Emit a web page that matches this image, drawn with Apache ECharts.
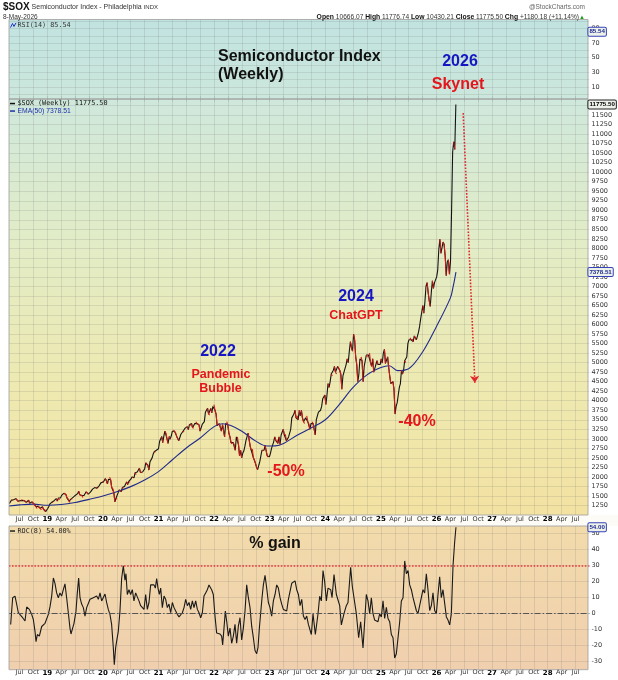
<!DOCTYPE html>
<html>
<head>
<meta charset="utf-8">
<title>$SOX Semiconductor Index (Weekly)</title>
<script src="https://cdn.jsdelivr.net/npm/echarts@6.0.0/dist/echarts.min.js"></script>
<style>
html,body{margin:0;padding:0;background:#ffffff;}
#chart{width:618px;height:680px;}
</style>
</head>
<body>
<div id="chart"></div>
<script>
// ================= DATA =================
const weekStart = '2018-04-27';           // first weekly close (Fridays)
const close2018 = [1300,1340,1390,1385,1400,1420,1430,1405,1365,1350,1375,1395,1385,1390,1375,1360,1330,1365,1390,1310,1320,1345,1330,1290,1245,1220,1170,1230,1195,1175,1130,1215,1150,1145,1090,1140];
const close2019 = [1170,1225,1290,1300,1340,1330,1375,1400,1430,1365,1445,1400,1450,1515,1545,1570,1555,1540,1450,1430,1365,1330,1425,1420,1470,1480,1520,1550,1560,1625,1530,1520,1510,1460,1510,1560,1610,1580,1550,1560,1600,1630,1680,1705,1720,1735,1700,1730,1760,1805,1850,1880];
const close2020 = [1860,1905,1955,1900,1820,1940,1990,1925,1720,1700,1590,1345,1440,1420,1580,1660,1640,1615,1720,1705,1750,1780,1870,1800,1880,1860,1940,2000,1975,1980,2110,2060,2130,2150,2230,2120,2110,2130,2150,2210,2370,2320,2310,2180,2400,2450,2500,2600,2660,2650,2700,2720];
const close2021 = [2740,2930,2980,3060,2900,3070,3200,3150,3000,2880,3060,2990,3080,3200,3230,3200,3160,3070,3010,2950,3000,3120,3140,3200,3180,3280,3300,3320,3240,3370,3340,3400,3290,3280,3400,3450,3400,3380,3370,3200,3250,3380,3390,3450,3700,3700,3800,3650,3620,3800,3680,3850,3900];
const close2022 = [3750,3650,3350,3370,3400,3300,3200,3370,3230,3050,3400,3450,3370,3150,3050,2900,2870,2900,2850,2700,3050,3050,2850,2560,2700,2500,2620,2680,2800,2950,3000,3150,2980,2800,2700,2730,2500,2450,2350,2250,2190,2300,2400,2450,2700,2680,2700,2820,2680,2550,2520,2530];
const close2023 = [2620,2750,2800,2920,3050,2950,2980,2880,3050,2850,3100,3150,3250,3100,3120,2950,2950,3050,3050,3250,3550,3600,3650,3750,3550,3600,3500,3750,3600,3750,3550,3450,3400,3550,3600,3450,3400,3250,3400,3450,3400,3250,3100,3500,3600,3700,3700,3750,3850,4050,4100,4150];
const close2024 = [3900,4150,4450,4350,4500,4700,4650,4800,4900,4750,4700,4900,4850,4800,4700,4300,4650,4750,4800,4950,5100,5000,5300,5550,5400,5300,5750,5600,5150,4950,4500,4700,5100,5150,5050,4500,4900,5050,5200,5150,5200,5250,5000,4900,5100,4750,4850,4850,5050,4950,4950,4950];
const close2025 = [5100,4990,5250,5350,4980,5000,5150,4880,4650,4450,4450,4500,4300,3650,3850,3950,4150,4350,4450,4800,4700,4800,5050,5000,5150,5500,5600,5650,5600,5620,5550,5700,5650,5600,5600,5800,5950,6150,6200,6500,6300,6600,7000,7100,6850,6630,6475,6850,7150,6950,7100,7100];
const close2026 = [7250,7430,7965,8240,7870,7900,8165,8100,7800,7280,7646,7700,7320,7660,8980,10530,10800,10595.32,11775.50];

const emaTimes  = [2018.31,2018.5,2018.75,2019.0,2019.25,2019.5,2019.75,2020.0,2020.25,2020.5,2020.75,2021.0,2021.25,2021.5,2021.75,2022.0,2022.15,2022.3,2022.5,2022.75,2022.95,2023.1,2023.25,2023.5,2023.75,2024.0,2024.25,2024.5,2024.75,2025.0,2025.15,2025.3,2025.5,2025.75,2026.0,2026.25,2026.3,2026.35];
const emaValues = [1235,1265,1285,1255,1275,1330,1410,1500,1610,1745,1920,2140,2450,2760,3020,3320,3395,3350,3200,2940,2810,2815,2880,3100,3290,3500,3900,4350,4680,4870,4920,4790,4840,5280,5950,6700,7000,7378.51];

const rocTimes = [
 2018.341,2018.377,2018.419,2018.449,2018.479,2018.521,2018.557,2018.599,2018.629,2018.677,2018.719,2018.749,2018.779,2018.797,2018.821,2018.857,2018.899,2018.929,2018.959,2018.989,
 2019.019,2019.049,2019.079,2019.109,2019.138,2019.168,2019.198,2019.228,2019.258,2019.288,2019.318,2019.348,2019.378,2019.408,2019.426,2019.456,2019.480,2019.516,2019.540,2019.564,2019.588,2019.618,2019.648,2019.678,2019.708,2019.738,2019.768,2019.798,2019.828,2019.858,2019.888,2019.918,2019.948,2019.978,
 2020.008,2020.038,2020.068,2020.097,2020.127,2020.157,2020.187,2020.205,2020.230,2020.248,2020.277,2020.307,2020.337,2020.367,2020.397,2020.415,2020.439,2020.469,2020.499,2020.529,2020.559,2020.589,2020.619,2020.649,2020.679,2020.709,2020.739,2020.769,2020.799,2020.829,2020.859,2020.889,2020.919,2020.943,2020.967,2020.991,
 2021.015,2021.039,2021.069,2021.099,2021.129,2021.159,2021.189,2021.219,2021.249,2021.279,2021.309,2021.339,2021.369,2021.399,2021.429,2021.459,2021.489,2021.519,2021.549,2021.579,2021.609,2021.639,2021.669,2021.699,2021.729,2021.759,2021.789,2021.818,2021.848,2021.878,2021.908,2021.926,2021.956,2021.986,
 2022.016,2022.046,2022.076,2022.106,2022.136,2022.154,2022.178,2022.202,2022.226,2022.256,2022.286,2022.316,2022.346,2022.376,2022.406,2022.436,2022.466,2022.496,2022.526,2022.556,2022.586,2022.616,2022.646,2022.676,2022.706,2022.736,2022.766,2022.790,2022.814,2022.838,2022.862,2022.886,2022.916,2022.946,2022.976,
 2023.006,2023.036,2023.066,2023.096,2023.126,2023.156,2023.186,2023.216,2023.246,2023.276,2023.306,2023.336,2023.366,2023.396,2023.426,2023.456,2023.486,2023.516,2023.546,2023.576,2023.606,2023.636,2023.666,2023.696,
 2023.749,2023.779,2023.821,2023.869,2023.899,2023.929,2023.959,2023.989,
 2024.019,2024.049,2024.097,2024.121,2024.157,2024.199,2024.229,2024.259,2024.289,2024.336,2024.378,2024.408,2024.456,2024.486,2024.516,2024.558,2024.600,2024.636,2024.678,2024.708,2024.738,2024.768,2024.798,2024.828,2024.858,2024.888,2024.918,2024.948,2024.978,
 2025.008,2025.038,2025.068,2025.098,2025.128,2025.158,2025.188,2025.218,2025.248,2025.278,2025.308,2025.338,2025.368,2025.398,2025.428,2025.458,2025.488,2025.518,2025.548,2025.578,2025.607,2025.637,2025.667,2025.697,2025.727,2025.757,2025.787,2025.817,2025.847,2025.877,2025.907,2025.937,2025.967,2025.997,
 2026.027,2026.057,2026.087,2026.117,2026.147,2026.177,2026.207,2026.237,2026.267,2026.297,2026.327,2026.350
];
const rocValues = [
 -6.7,10,11,6,0.6,-1,-2.5,-4.6,4.2,2.7,-0.4,-3.6,-11,-17.5,-13,-14,-8,-9,-6,-7,
 -0.4,4.4,11,22.3,19,13,10,13,11,15,18.6,10,0.6,-9,-12.7,-9,-6,1.6,13,22.3,10,6,3.8,-1.5,3.8,4.9,9,8,10,9,11,9,13,8,
 9,12.3,6.9,2.7,-0.4,-6.7,-21,-31.9,-21,-17,-11,1.6,22,30,21,25,12,15,12,15,8,13,14,8,5,6,2.7,12,2.7,7,18,17,18,16,22,16,
 12,16,3.8,11,9,3.8,6,0.6,7,3.8,1.7,-0.4,-2,-2,0.6,3.8,9,5,7,2.7,8,3.8,8,2.7,0.6,-2.5,0.6,11,13,15,18,18,15,12,
 -1.5,-12,-13,-12.7,-14,-19.6,-9,1.7,-4.6,-14,-9,-18.5,-14,-6.7,-18.5,-7.8,-2.5,-16.4,-9,1.7,18,10,3.8,-7.8,-15,-23,-25,-21,-9,0.6,10,18,24,16,7,
 3.8,-1.5,8,12,18,16,10,6,2.7,1.7,1.7,9,14,19,20,20.5,15,12,5,9,-1.5,-3.6,-1.5,-6.7,
 -13,0,-13,0,10.9,8,27,20,
 8,16,15,10,24.4,12,13,5,-7,0,5,7,29,17,17,0,-15,-5,-21.4,-5,12,8,0,10,0,-4,-5,-5,0,
 -2,8,-3,4,-3,-5,-13,-15,-27.7,-25,-15,-5,8,10,33,25,27,18,15,10,10,2,0,5,10,15,13,25,15,2,5,13,2,0,
 12,23,10,15,14,-2,-4,-7,0,30,45,54
];

const quarterNames   = ['', 'Apr', 'Jul', 'Oct'];
const rsiTickLabels  = [10, 30, 50, 70, 90];
const rocTickLabels  = [-30, -20, -10, 0, 10, 20, 30, 40, 50];
const priceLabelMin  = 1250, priceLabelMax = 11500;
const lastRsi = 85.54, lastClose = 11775.50, lastEma = 7378.51, lastRoc = 54.00;
const rocSignalLevel = 30;
const forecastArrow = [[2026.48, 11550], [2026.69, 4470]];

// ================= BUILD =================
const weeklyClose = [].concat(close2018, close2019, close2020, close2021, close2022, close2023, close2024, close2025, close2026);
function toDecYear(ms) {
  const y = new Date(ms).getUTCFullYear();
  const a = Date.UTC(y, 0, 1), b = Date.UTC(y + 1, 0, 1);
  return y + (ms - a) / (b - a);
}
const t0 = Date.parse(weekStart + 'T00:00:00Z');
const weekTimes = weeklyClose.map((_, i) => toDecYear(t0 + i * 7 * 86400000));
const priceData = weekTimes.map((t, i) => [t, weeklyClose[i]]);
const downData = [];
for (let i = 0; i + 1 < weeklyClose.length; i++) {
  if (weeklyClose[i + 1] < weeklyClose[i]) {
    downData.push([weekTimes[i], weeklyClose[i]], [weekTimes[i + 1], weeklyClose[i + 1]], [weekTimes[i + 1], null]);
  }
}
const emaData = emaTimes.map((t, i) => [t, emaValues[i]]);
const rocData = rocTimes.map((t, i) => [t, rocValues[i]]);

const F = '"Liberation Sans", Arial, sans-serif';
const DV = '"DejaVu Sans", Verdana, sans-serif';
const MONO = '"DejaVu Sans Mono", monospace';
const gridColor = 'rgba(105,105,105,0.16)';
const BLUE = '#1616c4', RED = '#e4161c';

function xLabel(v) {
  const q = Math.round(v * 4), yr = Math.floor(q / 4), k = q - yr * 4;
  return k === 0 ? '{yr|' + String(yr).slice(2) + '}' : quarterNames[k];
}
const GL = 5.6, GR = 618 - 589.4;
function splitX(grid) {
  return { type: 'value', gridIndex: grid, position: 'top', min: 2018.25, max: 2028.75, interval: 0.25,
    axisLine: { show: false }, axisTick: { show: false }, axisLabel: { show: false },
    splitLine: { show: true, showMinLine: false, showMaxLine: false, lineStyle: { color: gridColor, width: 1 } }, z: 0 };
}
function labelX(grid, margin) {
  return { type: 'value', gridIndex: grid, position: 'bottom', min: 2018.25, max: 2028.75, interval: 0.25,
    axisLine: { show: false }, axisTick: { show: false }, splitLine: { show: false },
    axisLabel: { show: true, margin: margin, formatter: xLabel, fontSize: 6.5, color: '#333', fontFamily: DV,
      showMinLabel: false, showMaxLabel: false, hideOverlap: false,
      rich: { yr: { fontWeight: 'bold', fontSize: 7, color: '#000', fontFamily: DV } } }, z: 3 };
}
function yAx(grid, min, max, interval, fmt) {
  return { type: 'value', gridIndex: grid, position: 'right', min, max, interval,
    axisLine: { show: false }, axisTick: { show: false },
    axisLabel: { margin: 2, fontSize: 6.5, color: '#333', fontFamily: DV, formatter: fmt, showMinLabel: false, showMaxLabel: false, hideOverlap: false },
    splitLine: { show: true, showMinLine: false, showMaxLine: false, lineStyle: { color: gridColor, width: 1 } }, z: 0 };
}
function tag(value, text, border, color) {
  return { yAxis: value, symbol: 'none', lineStyle: { color: 'rgba(0,0,0,0)', width: 1, opacity: 1 },
    label: { show: true, opacity: 1, position: 'end', distance: -1, formatter: text, fontSize: 6.2, fontFamily: F, fontWeight: 'bold',
      color: color, backgroundColor: '#eef1ea', borderColor: border, borderWidth: 1, borderRadius: 1, padding: [1, 1, 0, 1], lineHeight: 7 } };
}
function grad(stops) {
  return new echarts.graphic.LinearGradient(0, 0, 0, 1, stops.map(s => ({ offset: s[0], color: s[1] })));
}
const PL = 9, PR = 588;
const panels = [
  { y0: 19.5, y1: 99, stops: [[0, '#c1e3e0'], [1, '#cce7dc']] },
  { y0: 99, y1: 515, stops: [[0, '#cfe8dc'], [0.35, '#e2ecc6'], [0.7, '#eee9b0'], [1, '#f3e2a2']] },
  { y0: 526, y1: 669.7, stops: [[0, '#f2dbab'], [1, '#f0cfae']] }
];
const graphics = [];
panels.forEach(p => graphics.push({ type: 'rect', z: -10, silent: true, shape: { x: PL, y: p.y0, width: PR - PL, height: p.y1 - p.y0 }, style: { fill: grad(p.stops) } }));
[[0, 0, 618, 19.5, '#ffffff', 1], [0, 515, 618, 11, '#fcfbf6', 1], [0, 669.7, 618, 10.3, '#ffffff', 1], [0, 19.5, PL, 660.5, '#ffffff', 10]].forEach(c =>
  graphics.push({ type: 'rect', z: c[5], silent: true, shape: { x: c[0], y: c[1], width: c[2], height: c[3] }, style: { fill: c[4] } }));
panels.forEach(p => graphics.push({ type: 'rect', z: 11, silent: true, shape: { x: PL, y: p.y0, width: PR - PL, height: p.y1 - p.y0 }, style: { fill: 'none', stroke: '#9c9c9c', lineWidth: 0.8 } }));
function txt(x, y, text, font, fill, align, z, rich) {
  const s = { text, font, fill, align: align || 'left', verticalAlign: 'middle' };
  if (rich) s.rich = rich;
  graphics.push({ type: 'text', x, y, z: z || 12, silent: true, style: s });
}
// header
txt(3, 7.5, '{a|$SOX} {b|Semiconductor Index - Philadelphia} {c|INDX}', '7px ' + F, '#222', 'left', 12,
  { a: { font: 'bold 10px ' + F, fill: '#111' }, b: { font: '7px ' + F, fill: '#333' }, c: { font: '6px ' + F, fill: '#333' } });
txt(3, 17, '8-May-2026', '6.5px ' + F, '#333');
txt(585, 7.5, '@StockCharts.com', '6.5px ' + F, '#666', 'right');
txt(585, 17, '{b|Open} 10666.07 {b|High} 11776.74 {b|Low} 10430.21 {b|Close} 11775.50 {b|Chg} +1180.18 (+11.14%){g|▲}', '6.6px ' + F, '#333', 'right', 12,
  { b: { font: 'bold 6.8px ' + F, fill: '#111' }, g: { font: '6px ' + F, fill: '#19a019' } });
// legends
graphics.push({ type: 'polyline', z: 12, silent: true, shape: { points: [[10.5, 27.5], [12.5, 23.5], [14, 26.5], [16, 22.8]] }, style: { stroke: '#2233cc', lineWidth: 1, fill: 'none' } });
txt(17.5, 25.5, 'RSI(14) 85.54', '6.8px ' + MONO, '#333');
graphics.push({ type: 'rect', z: 12, silent: true, shape: { x: 10, y: 102.8, width: 5, height: 1.5 }, style: { fill: '#111' } });
txt(17.5, 103.5, '$SOX (Weekly) 11775.50', '6.8px ' + MONO, '#111');
graphics.push({ type: 'rect', z: 12, silent: true, shape: { x: 10, y: 110.3, width: 5, height: 1.5 }, style: { fill: '#2030a8' } });
txt(17.5, 111, 'EMA(50) 7378.51', '6.8px ' + F, '#2030a8');
graphics.push({ type: 'rect', z: 12, silent: true, shape: { x: 10, y: 530.3, width: 5, height: 1.5 }, style: { fill: '#222' } });
txt(17.5, 531, 'ROC(8) 54.00%', '6.8px ' + MONO, '#222');
// annotations
const B16 = 'bold 16px ' + F, B12 = 'bold 12.5px ' + F;
txt(218, 57, 'Semiconductor Index', B16, '#111', 'left');
txt(218, 74.5, '(Weekly)', B16, '#111', 'left');
txt(460, 62, '2026', B16, BLUE, 'center');
txt(458, 85, 'Skynet', B16, RED, 'center');
txt(356, 297, '2024', B16, BLUE, 'center');
txt(356, 316, 'ChatGPT', B12, RED, 'center');
txt(218, 352, '2022', B16, BLUE, 'center');
txt(221, 375, 'Pandemic', B12, RED, 'center');
txt(220.5, 389, 'Bubble', B12, RED, 'center');
txt(286, 472, '-50%', B16, RED, 'center');
txt(417, 422, '-40%', B16, RED, 'center');
txt(275, 544, '% gain', B16, '#111', 'center');

const option = {
  backgroundColor: '#ffffff',
  animation: false,
  grid: [
    { left: GL, right: GR, top: 13.9, height: 87.6, outerBoundsMode: 'none', containLabel: false },
    { left: GL, right: GR, top: 96, height: 419, outerBoundsMode: 'none', containLabel: false },
    { left: GL, right: GR, top: 517.7, height: 160, outerBoundsMode: 'none', containLabel: false }
  ],
  xAxis: [splitX(0), splitX(1), labelX(1, 1), splitX(2), labelX(2, -8.5)],
  yAxis: [
    yAx(0, -10, 110, 10, v => rsiTickLabels.includes(v) ? String(v) : ''),
    yAx(1, 1000, 12000, 250, v => (v >= priceLabelMin && v <= priceLabelMax) ? String(v) : ''),
    yAx(2, -40, 60, 10, v => rocTickLabels.includes(v) ? String(v) : '')
  ],
  graphic: { elements: graphics },
  series: [
    { name: 'RSI(14)', type: 'line', xAxisIndex: 0, yAxisIndex: 0, data: [], showSymbol: false, silent: true, z: 13,
      markLine: { silent: true, symbol: 'none', animation: false, z: 13, data: [tag(lastRsi, '85.54', '#3444b8', '#1a2a90')] } },
    { name: '$SOX', type: 'line', xAxisIndex: 1, yAxisIndex: 1, data: priceData, showSymbol: false, silent: true,
      lineStyle: { color: '#141414', width: 1.1 }, z: 3,
      markLine: { silent: true, symbol: 'none', animation: false, z: 13, data: [
        tag(lastClose, '11775.50', '#222', '#000'),
        [ { coord: forecastArrow[0], symbol: 'none', lineStyle: { color: '#e2262b', type: 'dotted', width: 1.6, opacity: 1 }, label: { show: false } },
          { coord: forecastArrow[1], symbol: 'arrow', symbolSize: 7, lineStyle: { color: '#e2262b', type: 'dotted', width: 1.6, opacity: 1 }, label: { show: false } } ]
      ] } },
    { name: '$SOX down', type: 'line', xAxisIndex: 1, yAxisIndex: 1, data: downData, showSymbol: false, silent: true, connectNulls: false,
      lineStyle: { color: '#d21818', width: 1.1 }, z: 4 },
    { name: 'EMA(50)', type: 'line', xAxisIndex: 1, yAxisIndex: 1, data: emaData, showSymbol: false, silent: true, smooth: 0.35,
      lineStyle: { color: '#1f2a8c', width: 1.1 }, z: 3,
      markLine: { silent: true, symbol: 'none', animation: false, z: 13, data: [tag(lastEma, '7378.51', '#3444b8', '#1a2a90')] } },
    { name: 'ROC(8)', type: 'line', xAxisIndex: 3, yAxisIndex: 2, data: rocData, showSymbol: false, silent: true,
      lineStyle: { color: '#1a1a1a', width: 1.1 }, z: 3,
      markLine: { silent: true, symbol: 'none', animation: false, z: 5, data: [
        { yAxis: rocSignalLevel, lineStyle: { color: '#e8383a', type: 'dotted', width: 1.6 }, label: { show: false } },
        { yAxis: 0, lineStyle: { color: '#555', type: [6, 2, 1.5, 2], width: 1 }, label: { show: false } }
      ] } },
    { name: 'ROC tag', type: 'line', xAxisIndex: 3, yAxisIndex: 2, data: [], showSymbol: false, silent: true, z: 13,
      markLine: { silent: true, symbol: 'none', animation: false, z: 13, data: [tag(lastRoc, '54.00', '#3444b8', '#1a2a90')] } }
  ]
};
const chart = echarts.init(document.getElementById('chart'), null, { renderer: 'canvas' });
chart.setOption(option);
</script>
</body>
</html>
